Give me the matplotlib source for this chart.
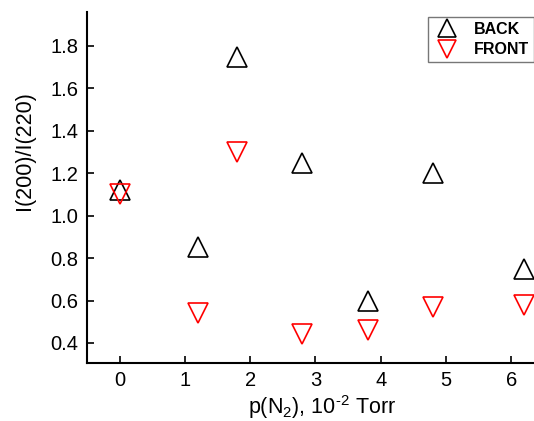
import matplotlib
matplotlib.use("Agg")
import matplotlib.pyplot as plt

plt.rcParams['font.family'] = ['Liberation Sans', 'DejaVu Sans']
plt.rcParams['mathtext.default'] = 'regular'

pressure = [0, 1.2, 1.8, 2.8, 3.8, 4.8, 6.2]
back = [1.12, 0.85, 1.75, 1.25, 0.60, 1.20, 0.75]
front = [1.10, 0.54, 1.30, 0.44, 0.46, 0.57, 0.58]
xticks = [0, 1, 2, 3, 4, 5, 6]
yticks = [0.4, 0.6, 0.8, 1.0, 1.2, 1.4, 1.6, 1.8]

fig = plt.figure(figsize=(5.34, 4.21), dpi=100)
ax = fig.add_axes([0.163, 0.138, 0.837, 0.8335])

ax.plot(pressure, back, linestyle='none', marker='^', ms=14, mfc='none',
        mec='black', mew=1.2, label='BACK')
ax.plot(pressure, front, linestyle='none', marker='v', ms=14, mfc='none',
        mec='red', mew=1.2, label='FRONT')

ax.set_xlim(-0.5, 6.35)
ax.set_ylim(0.306, 1.96)
ax.set_xticks(xticks)
ax.set_yticks(yticks)
ax.set_yticklabels([f'{v:.1f}' for v in yticks])
ax.tick_params(direction='in', length=5, width=1.2, labelsize=14.5, pad=6)
for s in ['top', 'right']:
    ax.spines[s].set_visible(False)
for s in ['left', 'bottom']:
    ax.spines[s].set_linewidth(1.5)

ax.set_xlabel('p(N$_2$), 10$^{\u2010 2}$ Torr', fontsize=15.5, va='center')
ax.xaxis.set_label_coords(0.526, -0.126)
ax.set_ylabel('I(200)/I(220)', fontsize=15.5, va='center')
ax.yaxis.set_label_coords(-0.141, 0.604)

leg = ax.legend(loc='upper right', bbox_to_anchor=(1.0, 1 - 17 / 421), bbox_transform=fig.transFigure,
                prop={'weight': 'bold', 'size': 11.5}, fancybox=False, framealpha=1,
                edgecolor='#777777', borderpad=0.3, handletextpad=0.8, labelspacing=0.35,
                handlelength=1.8, borderaxespad=0, markerscale=0.9)
leg.get_frame().set_linewidth(1.0)

fig.savefig('out.png', dpi=100)
